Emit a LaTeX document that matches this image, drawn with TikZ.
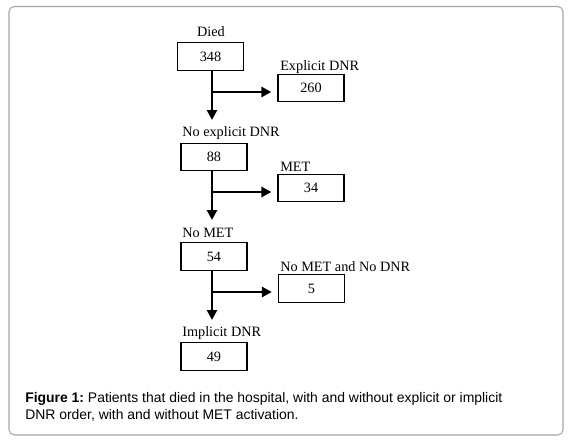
\documentclass[tikz,border=0pt]{standalone}
\usepackage{fontspec}
\setmainfont{Liberation Serif}
\newfontfamily\capfont{Liberation Sans}
\usetikzlibrary{arrows.meta}
\frenchspacing
\begin{document}
\begin{tikzpicture}[x=0.75pt,y=-0.75pt,
  numbox/.style={draw=black,line width=0.9pt,minimum width=49.5pt,minimum height=20.5pt,inner sep=0pt,font=\fontsize{10.7}{12}\selectfont},
  lbl/.style={inner sep=0pt,font=\fontsize{10.7}{12}\selectfont},
  arr/.style={line width=1.9pt,-{Triangle[width=7.5pt,length=7.5pt]}},
  frame/.style={draw=black!35,line width=0.8pt,rounded corners=4pt}]
\path[use as bounding box,fill=white] (0,0) rectangle (569,443);
\draw[frame] (9,6.5) rectangle (563,435);
% boxes
\node[numbox] (b348) at (210.5,56.5) {348};
\node[numbox] (b260) at (311,88) {260};
\node[numbox] (b88) at (214,157) {88};
\node[numbox] (b34) at (311,188) {34};
\node[numbox] (b54) at (214,256.5) {54};
\node[numbox] (b5) at (311.5,288.5) {5};
\node[numbox] (b49) at (214,356.5) {49};
% labels
\node[lbl] (lDied) at (211,32) {Died};
\node[lbl,anchor=west] (lExp) at (280,67) {Explicit DNR};
\node[lbl,anchor=west] (lNoExp) at (182,133) {No explicit DNR};
\node[lbl,anchor=west] (lMET) at (280,167) {MET};
\node[lbl,anchor=west] (lNoMET) at (182,233) {No MET};
\node[lbl,anchor=west] (lNoNo) at (280,267) {No MET and No DNR};
\node[lbl,anchor=west] (lImp) at (182,333) {Implicit DNR};
% connectors
\coordinate (t1) at (212,120);
\coordinate (h1) at (212,92);
\coordinate (t2) at (212,220);
\coordinate (h2) at (212,192);
\coordinate (t3) at (212,320);
\coordinate (h3) at (212,292);
\draw[arr] (b348.south -| t1) -- (t1);
\draw[arr] (h1) -- ([xshift=-4.5pt]h1 -| b260.west);
\draw[arr] (b88.south -| t2) -- (t2);
\draw[arr] (h2) -- ([xshift=-4.5pt]h2 -| b34.west);
\draw[arr] (b54.south -| t3) -- (t3);
\draw[arr] (h3) -- ([xshift=-4.5pt]h3 -| b5.west);
% caption
\node[anchor=north west,inner sep=0pt,align=left,font=\capfont\fontsize{10.45}{12.75}\selectfont] (cap) at (25,392)
  {\textbf{Figure 1:} Patients that died in the hospital, with and without explicit or implicit\\DNR order, with and without MET activation.};
\end{tikzpicture}
\end{document}
